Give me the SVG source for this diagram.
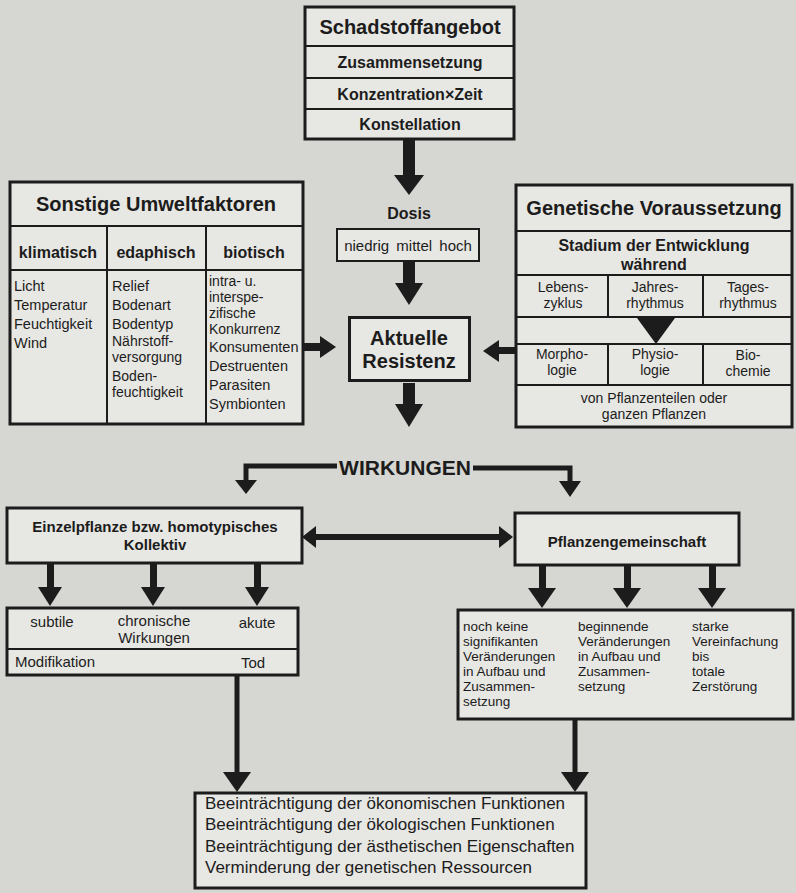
<svg xmlns="http://www.w3.org/2000/svg" width="796" height="893" viewBox="0 0 796 893">
<style>
.bg{fill:#d6d6d2}
.box{fill:#e7e7e3;stroke:#1c1c1c;stroke-width:3}
.thin{fill:#e7e7e3;stroke:#1c1c1c;stroke-width:2}
.dv{stroke:#1c1c1c;stroke-width:2;fill:none}
.dk{fill:#1c1c1c}
.ln{stroke:#1c1c1c;fill:none;stroke-linecap:butt}
text{font-family:"Liberation Sans",Arial,Helvetica,sans-serif;fill:#1c1c1c}
.b{font-weight:bold}
.c{text-anchor:middle}
.s135{font-size:13.5px}
.s14{font-size:14px}
.s145{font-size:14.5px}
.s15{font-size:15px}
.s16{font-size:16px}
.s20{font-size:20px}
</style>
<rect class="bg" x="0" y="0" width="796" height="893"/>

<g id="connectors">
  <rect class="dk" x="403" y="139" width="12" height="37"/>
  <polygon class="dk" points="394,175 424,175 409,195"/>
  <rect class="dk" x="403" y="261" width="12" height="23"/>
  <polygon class="dk" points="395,283 423,283 409,305"/>
  <rect class="dk" x="403" y="383" width="12" height="22"/>
  <polygon class="dk" points="395,404 423,404 409,427"/>
  <rect class="dk" x="303" y="343" width="19" height="8"/>
  <polygon class="dk" points="320,336 320,358 336,347"/>
  <rect class="dk" x="497" y="347" width="19" height="7"/>
  <polygon class="dk" points="499,340 499,362 483,351"/>
  <polyline class="ln" stroke-width="5" points="337,466 246,466 246,482"/>
  <polygon class="dk" points="235,480 257,480 246,494"/>
  <polyline class="ln" stroke-width="5" points="473,468 570,468 570,483"/>
  <polygon class="dk" points="559,481 581,481 570,497"/>
  <line class="ln" stroke-width="6" x1="314" y1="537" x2="501" y2="537"/>
  <polygon class="dk" points="302,537 316,526 316,548"/>
  <polygon class="dk" points="513,537 499,526 499,548"/>
  <rect class="dk" x="47" y="563" width="7" height="25"/>
  <polygon class="dk" points="38,587 62,587 50,606"/>
  <rect class="dk" x="150" y="563" width="7" height="25"/>
  <polygon class="dk" points="141,587 165,587 153,606"/>
  <rect class="dk" x="254" y="563" width="7" height="25"/>
  <polygon class="dk" points="245,587 269,587 257,606"/>
  <rect class="dk" x="539" y="565" width="7" height="24"/>
  <polygon class="dk" points="528,588 556,588 542,608"/>
  <rect class="dk" x="624" y="565" width="7" height="24"/>
  <polygon class="dk" points="613,588 641,588 627,608"/>
  <rect class="dk" x="709" y="565" width="7" height="24"/>
  <polygon class="dk" points="698,588 726,588 712,608"/>
  <line class="ln" stroke-width="5" x1="237" y1="675" x2="237" y2="774"/>
  <polygon class="dk" points="223,772 251,772 237,792"/>
  <line class="ln" stroke-width="5" x1="575" y1="719" x2="575" y2="774"/>
  <polygon class="dk" points="561,772 589,772 575,792"/>
</g>

<g id="schadstoffangebot">
  <rect class="box" x="305" y="7" width="209" height="132"/>
  <line class="dv" stroke-width="3" x1="305" y1="46" x2="514" y2="46"/>
  <line class="dv" x1="305" y1="78" x2="514" y2="78"/>
  <line class="dv" x1="305" y1="109" x2="514" y2="109"/>
  <text class="b c s20" x="410" y="34">Schadstoffangebot</text>
  <text class="b c s16" x="410" y="68">Zusammensetzung</text>
  <text class="b c s16" x="410" y="100">Konzentration×Zeit</text>
  <text class="b c s16" x="410" y="130">Konstellation</text>
</g>

<g id="dosis">
  <text class="b c s16" x="409" y="219">Dosis</text>
  <rect class="thin" x="337" y="229" width="142" height="32"/>
  <text class="c s15" x="408" y="251" word-spacing="3">niedrig mittel hoch</text>
</g>

<g id="resistenz">
  <rect class="box" stroke-width="5" x="349.5" y="317.5" width="120" height="63"/>
  <text class="b c s20" x="409" y="345">Aktuelle</text>
  <text class="b c s20" x="409" y="368">Resistenz</text>
</g>

<g id="umweltfaktoren">
  <rect class="box" x="10" y="182" width="293" height="242"/>
  <line class="dv" stroke-width="3" x1="10" y1="226" x2="303" y2="226"/>
  <line class="dv" x1="10" y1="270" x2="303" y2="270"/>
  <line class="dv" x1="107" y1="226" x2="107" y2="424"/>
  <line class="dv" x1="206" y1="226" x2="206" y2="424"/>
  <text class="b c s20" x="156" y="211">Sonstige Umweltfaktoren</text>
  <text class="b c s16" x="58" y="258">klimatisch</text>
  <text class="b c s16" x="156" y="258">edaphisch</text>
  <text class="b c s16" x="254" y="258">biotisch</text>
  <text class="s145" x="14" y="291">Licht</text>
  <text class="s145" x="14" y="310">Temperatur</text>
  <text class="s145" x="14" y="329">Feuchtigkeit</text>
  <text class="s145" x="14" y="348">Wind</text>
  <text class="s145" x="112" y="291">Relief</text>
  <text class="s145" x="112" y="310">Bodenart</text>
  <text class="s145" x="112" y="329">Bodentyp</text>
  <text class="s14" x="112" y="346">Nährstoff-</text>
  <text class="s14" x="112" y="362">versorgung</text>
  <text class="s14" x="112" y="381">Boden-</text>
  <text class="s14" x="112" y="397">feuchtigkeit</text>
  <text class="s14" x="209" y="286">intra- u.</text>
  <text class="s14" x="209" y="302">interspe-</text>
  <text class="s14" x="209" y="318">zifische</text>
  <text class="s14" x="209" y="334">Konkurrenz</text>
  <text class="s145" x="209" y="352">Konsumenten</text>
  <text class="s145" x="209" y="371">Destruenten</text>
  <text class="s145" x="209" y="390">Parasiten</text>
  <text class="s145" x="209" y="409">Symbionten</text>
</g>

<g id="genetische">
  <rect class="box" x="516" y="185" width="276" height="242"/>
  <line class="dv" stroke-width="3" x1="516" y1="231" x2="792" y2="231"/>
  <line class="dv" x1="516" y1="275" x2="792" y2="275"/>
  <line class="dv" x1="516" y1="317" x2="792" y2="317"/>
  <line class="dv" x1="516" y1="344" x2="792" y2="344"/>
  <line class="dv" x1="516" y1="385" x2="792" y2="385"/>
  <line class="dv" x1="608" y1="275" x2="608" y2="317"/>
  <line class="dv" x1="703" y1="275" x2="703" y2="317"/>
  <line class="dv" x1="608" y1="344" x2="608" y2="385"/>
  <line class="dv" x1="703" y1="344" x2="703" y2="385"/>
  <polygon class="dk" points="637,318 675,318 656,344"/>
  <text class="b c s20" x="654" y="215">Genetische Voraussetzung</text>
  <text class="b c s16" x="654" y="251">Stadium der Entwicklung</text>
  <text class="b c s16" x="654" y="270">während</text>
  <text class="c s14" x="563" y="292">Lebens-</text>
  <text class="c s14" x="563" y="308">zyklus</text>
  <text class="c s14" x="655" y="292">Jahres-</text>
  <text class="c s14" x="655" y="308">rhythmus</text>
  <text class="c s14" x="748" y="292">Tages-</text>
  <text class="c s14" x="748" y="308">rhythmus</text>
  <text class="c s14" x="562" y="359">Morpho-</text>
  <text class="c s14" x="562" y="375">logie</text>
  <text class="c s14" x="655" y="359">Physio-</text>
  <text class="c s14" x="655" y="375">logie</text>
  <text class="c s14" x="748" y="360">Bio-</text>
  <text class="c s14" x="748" y="376">chemie</text>
  <text class="c s14" x="654" y="403">von Pflanzenteilen oder</text>
  <text class="c s14" x="654" y="419">ganzen Pflanzen</text>
</g>

<g id="wirkungen">
  <text class="b c" font-size="21" x="405" y="475">WIRKUNGEN</text>
</g>

<g id="einzelpflanze">
  <rect class="box" stroke-width="2.5" x="7" y="508" width="295" height="55"/>
  <text class="b c s15" x="155" y="532">Einzelpflanze bzw. homotypisches</text>
  <text class="b c s15" x="155" y="550">Kollektiv</text>
</g>

<g id="pflanzengemeinschaft">
  <rect class="box" stroke-width="2.5" x="515" y="513" width="224" height="52"/>
  <text class="b c s15" x="627" y="547">Pflanzengemeinschaft</text>
</g>

<g id="individuelle-wirkungen">
  <rect class="box" stroke-width="2.5" x="7" y="608" width="291" height="67"/>
  <line class="dv" x1="7" y1="649" x2="298" y2="649"/>
  <text class="c s15" x="52" y="627">subtile</text>
  <text class="c s15" x="154" y="626">chronische</text>
  <text class="c s15" x="154" y="643">Wirkungen</text>
  <text class="c s15" x="257" y="628">akute</text>
  <text class="s15" x="15" y="667">Modifikation</text>
  <text class="c s15" x="253" y="668">Tod</text>
</g>

<g id="gemeinschaft-wirkungen">
  <rect class="box" stroke-width="2.5" x="458" y="610" width="335" height="109"/>
  <text class="s135" x="463" y="631">noch keine</text>
  <text class="s135" x="463" y="646">signifikanten</text>
  <text class="s135" x="463" y="661">Veränderungen</text>
  <text class="s135" x="463" y="676">in Aufbau und</text>
  <text class="s135" x="463" y="691">Zusammen-</text>
  <text class="s135" x="463" y="706">setzung</text>
  <text class="s135" x="578" y="631">beginnende</text>
  <text class="s135" x="578" y="646">Veränderungen</text>
  <text class="s135" x="578" y="661">in Aufbau und</text>
  <text class="s135" x="578" y="676">Zusammen-</text>
  <text class="s135" x="578" y="691">setzung</text>
  <text class="s135" x="692" y="631">starke</text>
  <text class="s135" x="692" y="646">Vereinfachung</text>
  <text class="s135" x="692" y="661">bis</text>
  <text class="s135" x="692" y="676">totale</text>
  <text class="s135" x="692" y="691">Zerstörung</text>
</g>

<g id="folgen">
  <rect class="box" stroke-width="2.5" x="195" y="793" width="391" height="95"/>
  <text font-size="17" x="205" y="809">Beeinträchtigung der ökonomischen Funktionen</text>
  <text font-size="17" x="205" y="830">Beeinträchtigung der ökologischen Funktionen</text>
  <text font-size="17" x="205" y="852">Beeinträchtigung der ästhetischen Eigenschaften</text>
  <text font-size="17" x="205" y="873">Verminderung der genetischen Ressourcen</text>
</g>
</svg>
